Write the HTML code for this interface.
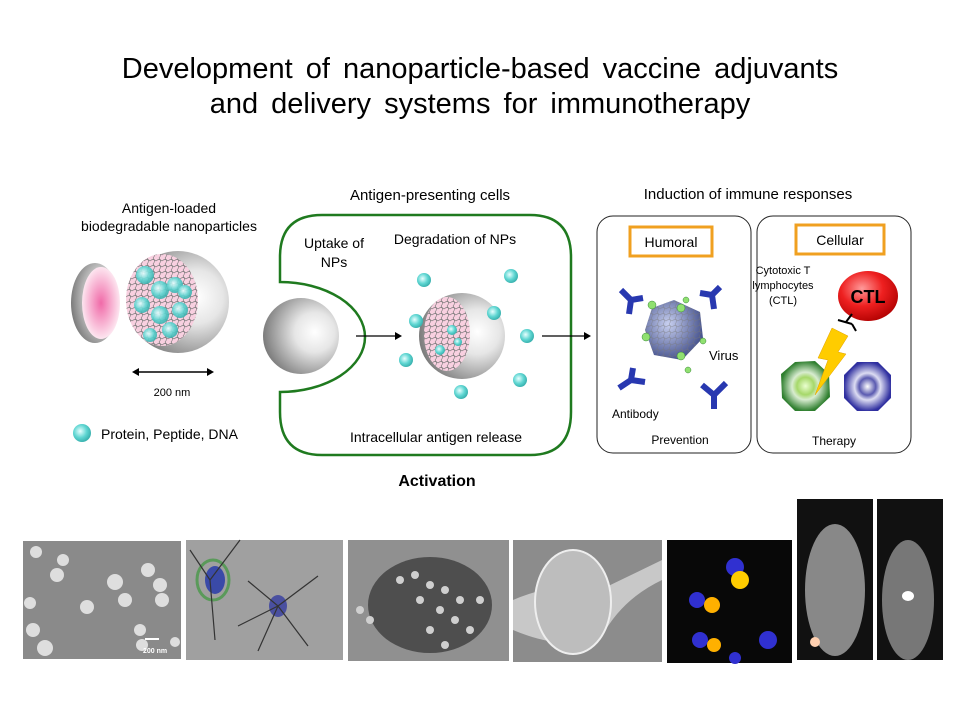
<!DOCTYPE html>
<html><head><meta charset="utf-8"><style>
body{margin:0;background:#fff}
svg{display:block;font-family:"Liberation Sans",sans-serif}
</style></head><body>
<svg width="960" height="720" viewBox="0 0 960 720" xmlns="http://www.w3.org/2000/svg">
<defs>
<radialGradient id="sph" cx="0.68" cy="0.45" r="0.75"><stop offset="0" stop-color="#fff"/><stop offset="0.35" stop-color="#e6e6e6"/><stop offset="1" stop-color="#6a6a6a"/></radialGradient>
<radialGradient id="cy" cx="0.4" cy="0.4" r="0.6"><stop offset="0" stop-color="#e8ffff"/><stop offset="0.6" stop-color="#5fd6d2"/><stop offset="1" stop-color="#3bb3b0"/></radialGradient>
<radialGradient id="pk" cx="0.5" cy="0.5" r="0.5"><stop offset="0" stop-color="#f06aa8"/><stop offset="1" stop-color="#fde6f0"/></radialGradient>
<radialGradient id="red" cx="0.4" cy="0.35" r="0.7"><stop offset="0" stop-color="#ff9a9a"/><stop offset="0.5" stop-color="#ee2020"/><stop offset="1" stop-color="#b00000"/></radialGradient>
<radialGradient id="grn" cx="0.5" cy="0.5" r="0.5"><stop offset="0" stop-color="#eaffd0"/><stop offset="0.35" stop-color="#a6d86a"/><stop offset="0.55" stop-color="#d8ecd0"/><stop offset="1" stop-color="#2f7f2f"/></radialGradient>
<radialGradient id="blu" cx="0.5" cy="0.5" r="0.5"><stop offset="0" stop-color="#fff"/><stop offset="0.35" stop-color="#5a5ab0"/><stop offset="0.55" stop-color="#dcdcf2"/><stop offset="1" stop-color="#3030a0"/></radialGradient>
<radialGradient id="vir" cx="0.4" cy="0.4" r="0.6"><stop offset="0" stop-color="#c8d0f0"/><stop offset="1" stop-color="#4a5690"/></radialGradient>
<pattern id="net" width="6" height="6" patternUnits="userSpaceOnUse"><path d="M0 3 Q3 0 6 3 M3 0 Q6 3 3 6" stroke="#777" stroke-width="0.6" fill="none"/></pattern>
</defs>

<text x="480" y="78" font-size="29" word-spacing="5" text-anchor="middle">Development of nanoparticle-based vaccine adjuvants</text>
<text x="480" y="113" font-size="29" word-spacing="5" text-anchor="middle">and delivery systems for immunotherapy</text>

<!-- left -->
<text x="169" y="213" font-size="14" text-anchor="middle">Antigen-loaded</text>
<text x="169" y="231" font-size="14" text-anchor="middle">biodegradable nanoparticles</text>
<ellipse cx="95" cy="303" rx="24" ry="40" fill="url(#sph)"/>
<ellipse cx="101" cy="303" rx="19" ry="36" fill="url(#pk)"/>
<circle cx="178" cy="302" r="51" fill="url(#sph)"/>
<ellipse cx="162" cy="300" rx="36" ry="46" fill="#f8d0e0"/>
<ellipse cx="162" cy="300" rx="36" ry="46" fill="url(#net)"/>
<g fill="url(#cy)" opacity="0.9">
<circle cx="145" cy="275" r="9"/><circle cx="160" cy="290" r="9"/><circle cx="175" cy="285" r="8"/><circle cx="142" cy="305" r="8"/><circle cx="160" cy="315" r="9"/><circle cx="180" cy="310" r="8"/><circle cx="170" cy="330" r="8"/><circle cx="150" cy="335" r="7"/><circle cx="185" cy="292" r="7"/>
</g>
<line x1="136" y1="372" x2="210" y2="372" stroke="#000" stroke-width="1.5"/>
<path d="M132 372 l7 -4 v8z M214 372 l-7 -4 v8z"/>
<text x="172" y="396" font-size="11" text-anchor="middle">200  nm</text>
<circle cx="82" cy="433" r="9" fill="url(#cy)"/>
<text x="101" y="439" font-size="14">Protein, Peptide, DNA</text>

<!-- APC -->
<text x="430" y="200" font-size="15" text-anchor="middle">Antigen-presenting cells</text>
<path d="M280 282 V257 Q280 215 322 215 H530 Q571 215 571 257 V412 Q571 455 530 455 H322 Q280 455 280 412 V392 A85 55 0 0 0 280 282 Z" fill="none" stroke="#1f7a1f" stroke-width="2.5"/>
<circle cx="301" cy="336" r="38" fill="url(#sph)"/>
<text x="334" y="248" font-size="14" text-anchor="middle">Uptake of</text>
<text x="334" y="267" font-size="14" text-anchor="middle">NPs</text>
<text x="455" y="244" font-size="14" text-anchor="middle">Degradation of NPs</text>
<line x1="356" y1="336" x2="396" y2="336" stroke="#000" stroke-width="1.3"/><path d="M402 336 l-7 -4 v8z"/>
<circle cx="462" cy="336" r="43" fill="url(#sph)"/>
<ellipse cx="447" cy="334" rx="23" ry="37" fill="#f8d0e0"/>
<ellipse cx="447" cy="334" rx="23" ry="37" fill="url(#net)"/>
<g fill="url(#cy)"><circle cx="452" cy="330" r="5"/><circle cx="440" cy="350" r="5"/><circle cx="458" cy="342" r="4"/>
<circle cx="424" cy="280" r="7"/><circle cx="511" cy="276" r="7"/><circle cx="416" cy="321" r="7"/><circle cx="494" cy="313" r="7"/><circle cx="527" cy="336" r="7"/><circle cx="406" cy="360" r="7"/><circle cx="520" cy="380" r="7"/><circle cx="461" cy="392" r="7"/></g>
<text x="436" y="442" font-size="14" text-anchor="middle">Intracellular   antigen release</text>
<text x="437" y="486" font-size="16" font-weight="bold" text-anchor="middle">Activation</text>
<line x1="542" y1="336" x2="585" y2="336" stroke="#000" stroke-width="1.3"/><path d="M591 336 l-7 -4 v8z"/>

<!-- immune -->
<text x="748" y="199" font-size="15" text-anchor="middle">Induction of immune responses</text>
<rect x="597" y="216" width="154" height="237" rx="16" fill="none" stroke="#222" stroke-width="1"/>
<rect x="757" y="216" width="154" height="237" rx="16" fill="none" stroke="#222" stroke-width="1"/>
<rect x="630" y="227" width="82" height="29" fill="none" stroke="#f0a020" stroke-width="3"/>
<text x="671" y="247" font-size="14" text-anchor="middle">Humoral</text>
<rect x="796" y="225" width="88" height="29" fill="none" stroke="#f0a020" stroke-width="3"/>
<text x="840" y="245" font-size="14" text-anchor="middle">Cellular</text>
<polygon points="674,300 700,312 703,338 682,360 654,355 645,330 652,308" fill="url(#vir)"/>
<polygon points="674,300 700,312 703,338 682,360 654,355 645,330 652,308" fill="url(#net)" opacity="0.5"/>
<g fill="#90e070" stroke="#3a8a3a" stroke-width="0.5"><circle cx="652" cy="305" r="4"/><circle cx="681" cy="308" r="4"/><circle cx="646" cy="337" r="4"/><circle cx="681" cy="356" r="4"/><circle cx="688" cy="370" r="3"/><circle cx="703" cy="341" r="3"/><circle cx="686" cy="300" r="3"/></g>
<g stroke="#2838b0" stroke-width="6" fill="none">
<path d="M621 290 l10 10 l12 -2 M631 300 l-2 14"/>
<path d="M700 293 l12 2 l8 -8 M712 295 l2 14"/>
<path d="M633 368 l-2 12 l-12 8 M631 380 l14 2"/>
<path d="M702 385 l12 10 l12 -12 M714 395 l0 14"/>
</g>
<text x="612" y="418" font-size="12">Antibody</text>
<text x="709" y="360" font-size="13">Virus</text>
<text x="680" y="444" font-size="12" text-anchor="middle">Prevention</text>
<text x="783" y="274" font-size="11" text-anchor="middle">Cytotoxic T</text>
<text x="783" y="289" font-size="11" text-anchor="middle">lymphocytes</text>
<text x="783" y="304" font-size="11" text-anchor="middle">(CTL)</text>
<ellipse cx="868" cy="296" rx="30" ry="25" fill="url(#red)"/>
<text x="868" y="303" font-size="18" font-weight="bold" text-anchor="middle">CTL</text>
<path d="M838 320 l14 4 M846 322 l6 -8 M852 324 l4 7" stroke="#000" stroke-width="2" fill="none"/>
<polygon points="795,362 815,361 829,374 830,397 815,411 795,411 782,398 781,374" fill="url(#grn)"/>
<polygon points="857,362 878,362 891,375 891,398 878,411 857,411 844,398 844,375" fill="url(#blu)"/>
<polygon points="832,328 848,336 838,352 846,354 815,395 828,360 818,358" fill="#ffcc00" stroke="#e0a000" stroke-width="0.5"/>
<text x="834" y="445" font-size="12" text-anchor="middle">Therapy</text>

<!-- photos -->
<rect x="23" y="541" width="158" height="118" fill="#8a8a8a"/>
<g fill="#dedede"><circle cx="36" cy="552" r="6"/><circle cx="63" cy="560" r="6"/><circle cx="57" cy="575" r="7"/><circle cx="115" cy="582" r="8"/><circle cx="125" cy="600" r="7"/><circle cx="148" cy="570" r="7"/><circle cx="160" cy="585" r="7"/><circle cx="162" cy="600" r="7"/><circle cx="87" cy="607" r="7"/><circle cx="33" cy="630" r="7"/><circle cx="45" cy="648" r="8"/><circle cx="140" cy="630" r="6"/><circle cx="142" cy="645" r="6"/><circle cx="175" cy="642" r="5"/><circle cx="30" cy="603" r="6"/></g>
<rect x="145" y="638" width="14" height="2" fill="#fff"/><text x="143" y="653" font-size="7" fill="#fff" font-weight="bold">200 nm</text>
<rect x="186" y="540" width="157" height="120" fill="#a0a0a0"/>
<ellipse cx="215" cy="580" rx="10" ry="14" fill="#3a4aa8"/><ellipse cx="213" cy="580" rx="16" ry="20" fill="none" stroke="#5a9a5a" stroke-width="3"/>
<ellipse cx="278" cy="606" rx="9" ry="11" fill="#4a50a0"/><g stroke="#333" stroke-width="1.2" fill="none"><path d="M278 606 l-30 -25 M278 606 l40 -30 M278 606 l30 40 M278 606 l-20 45 M278 606 l-40 20 M210 580 l-20 -30 M210 580 l5 60 M210 580 l30 -40"/></g>
<rect x="348" y="540" width="161" height="121" fill="#909090"/>
<ellipse cx="430" cy="605" rx="62" ry="48" fill="#4e4e4e"/>
<g fill="#cfcfcf"><circle cx="400" cy="580" r="4"/><circle cx="415" cy="575" r="4"/><circle cx="430" cy="585" r="4"/><circle cx="445" cy="590" r="4"/><circle cx="460" cy="600" r="4"/><circle cx="420" cy="600" r="4"/><circle cx="440" cy="610" r="4"/><circle cx="455" cy="620" r="4"/><circle cx="430" cy="630" r="4"/><circle cx="470" cy="630" r="4"/><circle cx="360" cy="610" r="4"/><circle cx="370" cy="620" r="4"/><circle cx="480" cy="600" r="4"/><circle cx="445" cy="645" r="4"/></g>
<rect x="513" y="540" width="149" height="122" fill="#8c8c8c"/>
<path d="M513 600 Q560 580 600 590 L662 560 V580 Q620 600 600 640 Q560 650 513 630 Z" fill="#c8c8c8"/>
<ellipse cx="573" cy="602" rx="38" ry="52" fill="#bdbdbd" stroke="#eee" stroke-width="2"/>
<rect x="667" y="540" width="125" height="123" fill="#080808"/>
<circle cx="735" cy="567" r="9" fill="#3030d0"/><circle cx="740" cy="580" r="9" fill="#ffcc00"/>
<circle cx="697" cy="600" r="8" fill="#3030d0"/><circle cx="712" cy="605" r="8" fill="#ffb000"/>
<circle cx="700" cy="640" r="8" fill="#3030d0"/><circle cx="714" cy="645" r="7" fill="#ffb000"/>
<circle cx="768" cy="640" r="9" fill="#3030d0"/><circle cx="735" cy="658" r="6" fill="#3030d0"/>
<rect x="797" y="499" width="76" height="161" fill="#111"/>
<ellipse cx="835" cy="590" rx="30" ry="66" fill="#888"/>
<circle cx="815" cy="642" r="5" fill="#ffd0b0"/>
<rect x="877" y="499" width="66" height="161" fill="#111"/>
<ellipse cx="908" cy="600" rx="26" ry="60" fill="#777"/>
<ellipse cx="908" cy="596" rx="6" ry="5" fill="#fff"/>
</svg>
</body></html>
